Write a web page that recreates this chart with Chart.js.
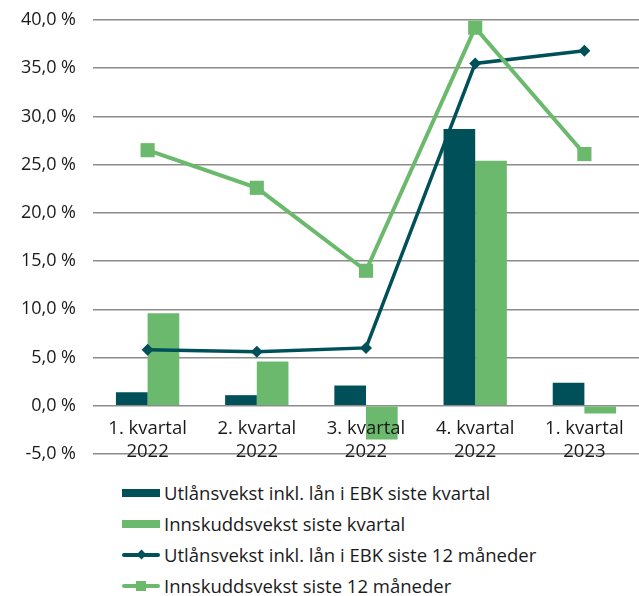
<!DOCTYPE html>
<html>
<head>
<meta charset="utf-8">
<script src="https://cdn.jsdelivr.net/npm/chart.js@4.4.1/dist/chart.umd.min.js"></script>
<style>
  body { margin: 0; background: #fff; font-family: 'Open Sans', sans-serif; overflow: hidden; }
  #wrap { position: relative; width: 639px; height: 462px; }
  #legend { margin: 15px 0 0 122px; }
  .item { display: flex; align-items: center; height: 31px; font-size: 18.5px; color: #1a1a1a; white-space: nowrap; }
  .swatch { position: relative; width: 38px; height: 16px; margin-right: 4px; flex: none; }
  .swatch .bar { position: absolute; left: 0; top: 4px; width: 38px; height: 8px; }
  .swatch .line { position: absolute; left: 0; top: 6px; width: 38px; height: 4px; border-radius: 2px; }
  .swatch .mark { position: absolute; }
</style>
</head>
<body>
<div id="wrap"><canvas id="chart"></canvas></div>
<div id="legend"></div>
<script>
// Data
const quarters = [['1. kvartal', '2022'], ['2. kvartal', '2022'], ['3. kvartal', '2022'], ['4. kvartal', '2022'], ['1. kvartal', '2023']];
const utlanKvartal = [1.4, 1.1, 2.1, 28.7, 2.4];
const innskuddKvartal = [9.6, 4.6, -3.5, 25.4, -0.8];
const utlan12 = [5.8, 5.6, 6.0, 35.5, 36.8];
const innskudd12 = [26.5, 22.6, 14.0, 39.2, 26.1];

const darkColor = '#00505a';
const greenColor = '#6bb96d';

const ctx = document.getElementById('chart').getContext('2d');
const chart = new Chart(ctx, {
    type: 'bar',
    data: {
        labels: quarters,
        datasets: [
            {
                label: 'Utlånsvekst inkl. lån i EBK siste kvartal',
                data: utlanKvartal,
                backgroundColor: darkColor,
                categoryPercentage: 0.58,
                barPercentage: 1.0,
                order: 2
            },
            {
                label: 'Innskuddsvekst siste kvartal',
                data: innskuddKvartal,
                backgroundColor: greenColor,
                categoryPercentage: 0.58,
                barPercentage: 1.0,
                order: 2
            },
            {
                type: 'line',
                label: 'Utlånsvekst inkl. lån i EBK siste 12 måneder',
                data: utlan12,
                borderColor: darkColor,
                backgroundColor: darkColor,
                borderWidth: 3.5,
                pointStyle: 'rectRot',
                pointRadius: 6,
                pointBorderWidth: 0,
                tension: 0,
                order: 1
            },
            {
                type: 'line',
                label: 'Innskuddsvekst siste 12 måneder',
                data: innskudd12,
                borderColor: greenColor,
                backgroundColor: greenColor,
                borderWidth: 4,
                pointStyle: 'rect',
                pointRadius: 10,
                pointBorderWidth: 0,
                tension: 0,
                order: 0
            }
        ]
    },
    options: {
        responsive: true,
        maintainAspectRatio: false,
        animation: false,
        layout: { autoPadding: false, padding: { top: 20, right: 0, left: 0, bottom: 8 } },
        scales: {
            x: {
                position: { y: 0 },
                grid: { display: false, drawTicks: false },
                border: { display: false },
                ticks: {
                    z: 1, // labels on top of the bars
                    color: '#1a1a1a',
                    font: { family: 'Open Sans', size: 18.5, lineHeight: 1.25 },
                    padding: 11,
                    maxRotation: 0,
                    autoSkip: false
                },
                afterFit: scale => {
                    scale.height = 0;
                    scale.paddingLeft = 0;
                    scale.paddingRight = 0;
                    scale.paddingTop = 0;
                    scale.paddingBottom = 0;
                }
            },
            y: {
                min: -5,
                max: 40,
                grid: { color: '#8c8c8c', lineWidth: 1.5, drawTicks: false },
                border: { display: false },
                ticks: {
                    stepSize: 5,
                    padding: 17,
                    color: '#1a1a1a',
                    font: { family: 'Open Sans', size: 18 },
                    callback: v => v.toFixed(1).replace('.', ',') + '\u00a0%'
                },
                afterFit: scale => {
                    scale.width = 93;
                    scale.paddingTop = 0;
                    scale.paddingBottom = 0;
                }
            }
        },
        plugins: {
            legend: { display: false },
            tooltip: { enabled: false }
        }
    }
});

// HTML legend, one item per row
const legendEl = document.getElementById('legend');
chart.data.datasets.forEach(ds => {
    const item = document.createElement('div');
    item.className = 'item';
    const sw = document.createElement('span');
    sw.className = 'swatch';
    if (ds.type === 'line') {
        sw.innerHTML = '<span class="line" style="background:' + ds.borderColor + '"></span>';
        const mark = document.createElement('span');
        mark.className = 'mark';
        mark.style.background = ds.borderColor;
        if (ds.pointStyle === 'rectRot') {
            mark.style.cssText += 'width:7px;height:7px;left:15.5px;top:4.5px;transform:rotate(45deg);';
        } else {
            mark.style.cssText += 'width:10px;height:10px;left:14px;top:3px;';
        }
        sw.appendChild(mark);
    } else {
        sw.innerHTML = '<span class="bar" style="background:' + ds.backgroundColor + '"></span>';
    }
    item.appendChild(sw);
    item.appendChild(document.createTextNode(ds.label));
    legendEl.appendChild(item);
});
</script>
</body>
</html>
